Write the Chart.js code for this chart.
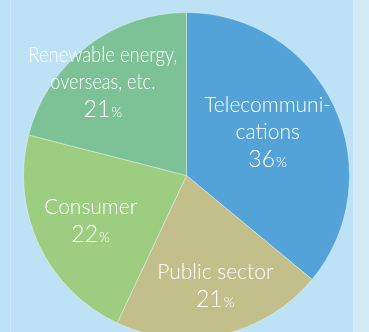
<!DOCTYPE html>
<html>
<head>
<meta charset="utf-8">
<script src="https://cdn.jsdelivr.net/npm/chart.js@4"></script>
<style>
  html, body { margin: 0; padding: 0; }
  body { width: 369px; height: 332px; overflow: hidden; position: relative; background: #bee2f5; }
  #rule { position: absolute; left: 10px; top: 0; width: 1px; height: 332px; background: #cbe9f8; }
  #strip { position: absolute; left: 353px; top: 0; width: 16px; height: 332px; background: #d3eaf7; }
  #wrap { position: absolute; left: 0; top: 0; width: 369px; height: 351px; }
</style>
</head>
<body>
<div id="rule"></div>
<div id="strip"></div>
<div id="wrap"><canvas id="pieSektor" width="369" height="351"></canvas></div>
<script>
// sektor, searah jarum jam mulai dari atas
var kategori = [
  ['Telecommuni-', 'cations'],
  ['Public sector'],
  ['Consumer'],
  ['Renewable energy,', 'overseas, etc.']
];
var persen = [36, 21, 22, 21];
var warna = ['#53a3d9', '#c2bf8b', '#9dcd80', '#7dc296'];

// posisi label: jarak dari pusat (x radius) dan geser sudut (derajat)
var labelJarak = [0.565, 0.70, 0.65, 0.77];
var labelGeser = [-3, -2, 0, -4];
// lebar maksimum tiap baris teks
var lebarBaris = [[129, 74], [121], [97], [149, 105]];

var labelPie = {
  id: 'labelPie',
  afterDatasetsDraw: function(chart) {
    var ctx = chart.ctx;
    var meta = chart.getDatasetMeta(0);
    var fam = 'Lato, "Open Sans", sans-serif';
    var lh = 27;
    ctx.save();
    ctx.fillStyle = '#ffffff';
    ctx.textAlign = 'center';
    ctx.textBaseline = 'middle';
    meta.data.forEach(function(arc, i) {
      var p = arc.getProps(['x', 'y', 'startAngle', 'endAngle', 'outerRadius'], true);
      var mid = (p.startAngle + p.endAngle) / 2 + labelGeser[i] * Math.PI / 180;
      var r = p.outerRadius * labelJarak[i];
      var cx = p.x + Math.cos(mid) * r;
      var cy = p.y + Math.sin(mid) * r;
      var baris = kategori[i];
      var n = baris.length + 1;
      var y0 = cy - (n - 1) * lh / 2;
      ctx.font = '300 21px ' + fam;
      baris.forEach(function(t, j) {
        ctx.fillText(t, cx, y0 + j * lh, lebarBaris[i][j]);
      });
      // angka besar, tanda persen kecil
      var yp = y0 + baris.length * lh;
      var angka = String(persen[i]);
      ctx.font = '300 23px ' + fam;
      var wA = ctx.measureText(angka).width;
      ctx.font = '300 14px ' + fam;
      var wP = ctx.measureText('%').width;
      var xs = cx - (wA + wP + 1) / 2;
      ctx.textAlign = 'left';
      ctx.textBaseline = 'alphabetic';
      ctx.font = '300 23px ' + fam;
      ctx.fillText(angka, xs, yp + 8);
      ctx.font = '300 14px ' + fam;
      ctx.fillText('%', xs + wA + 1, yp + 8);
      ctx.textAlign = 'center';
      ctx.textBaseline = 'middle';
    });
    ctx.restore();
  }
};

var ctx = document.getElementById('pieSektor').getContext('2d');
var pieSektor = new Chart(ctx, {
  type: 'pie',
  data: {
    labels: kategori.map(function(b) { return b.join(' '); }),
    datasets: [{
      data: persen,
      backgroundColor: warna,
      borderColor: 'rgba(255,255,255,0.35)',
      borderWidth: 1
    }]
  },
  options: {
    responsive: false,
    animation: false,
    events: [],
    layout: { padding: { left: 23, right: 19, top: 12, bottom: 12 } },
    plugins: {
      legend: { display: false },
      tooltip: { enabled: false }
    }
  },
  plugins: [labelPie]
});
</script>
</body>
</html>
